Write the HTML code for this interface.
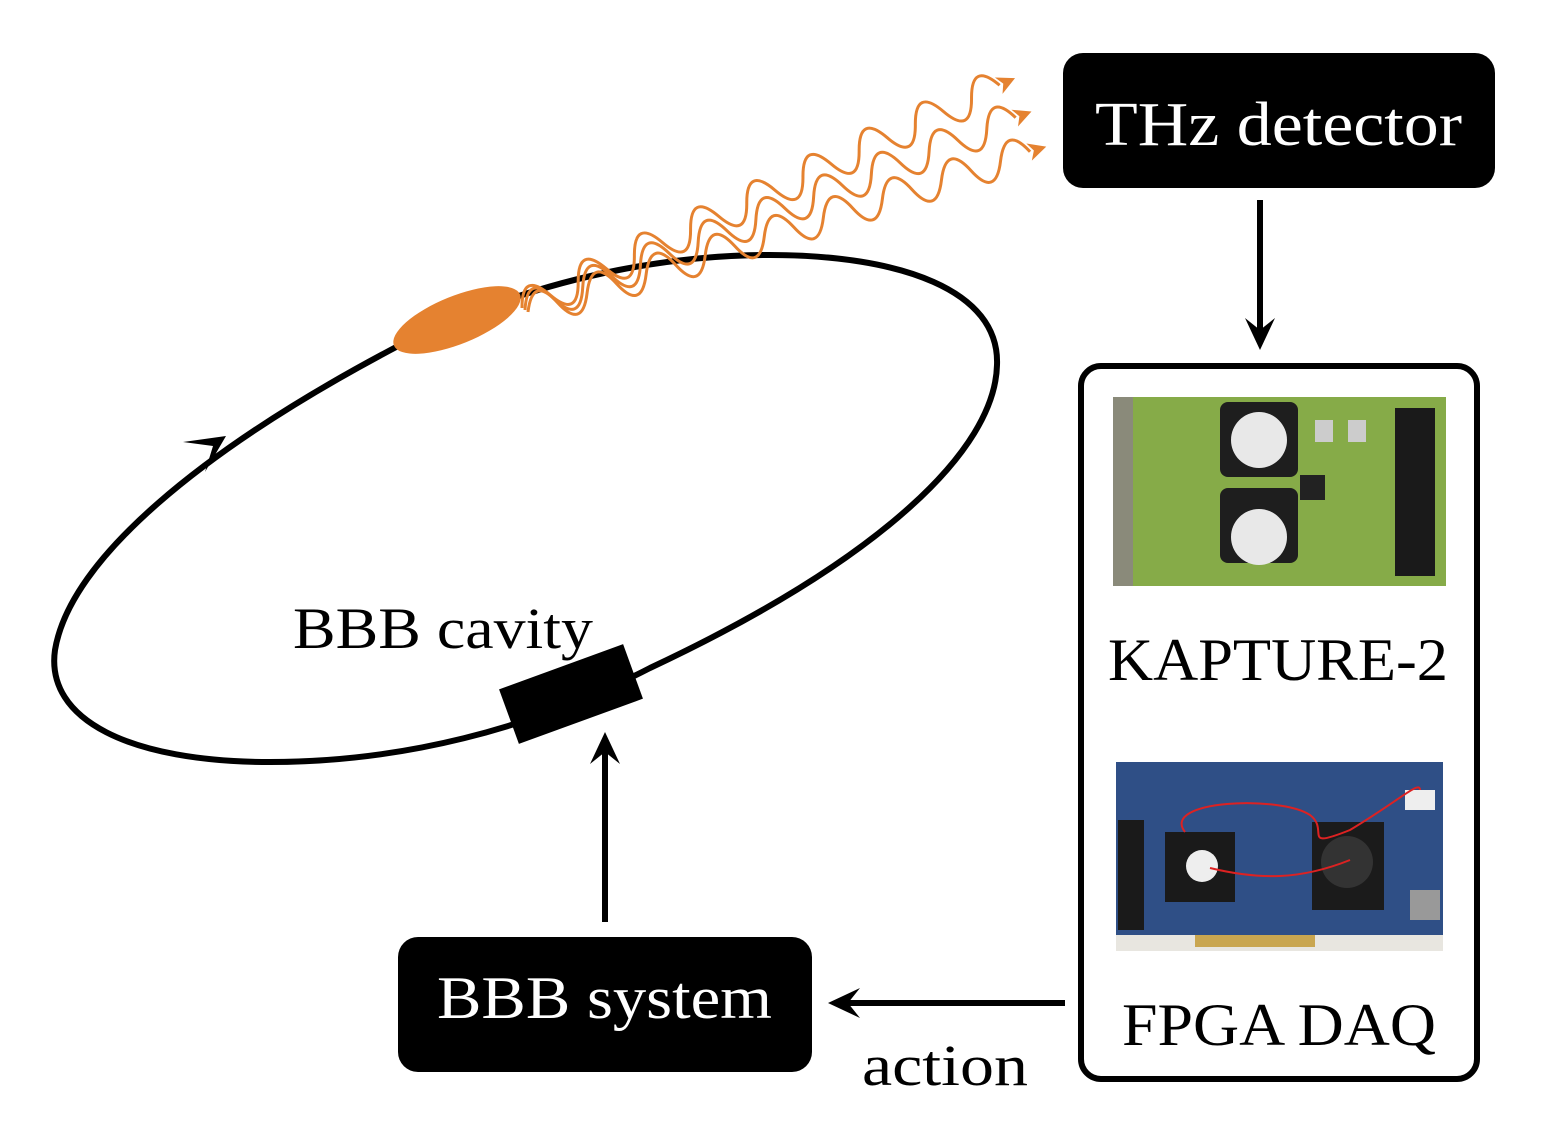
<!DOCTYPE html>
<html><head><style>
html,body{margin:0;padding:0;background:#fff;}
svg{display:block;}
text{font-family:"Liberation Serif",serif;}
</style></head><body>
<svg width="1550" height="1134" viewBox="0 0 1550 1134" xmlns="http://www.w3.org/2000/svg">
<defs>
<path id="wv" d="M0 0 q15.5 -34 31 0 t31 0 t31 0 t31 0 t31 0 t31 0 t31 0 t31 0 t31 0 t31 0 t31 0 t31 0 t31 0 t31 0 t31 0 t31 0 t31 0" fill="none" stroke="#e58230" stroke-width="3"/>
</defs>
<!-- ring -->
<path d="M270 762 C130 762 45 720 55 650 C70 560 200 450 400 345 C560 265 700 255 770 255 C900 255 1000 290 997 365 C995 450 880 560 650 668 C530 730 400 762 270 762 Z" fill="none" stroke="#000" stroke-width="6"/>
<!-- direction arrow -->
<path d="M183 442 L226 436 L205 472 L213 446 Z" fill="#000"/>
<!-- bunch -->
<ellipse cx="457" cy="320" rx="68" ry="24" transform="rotate(-22 457 320)" fill="#e58230"/>
<!-- waves -->
<g transform="translate(522,308) rotate(-25)"><use href="#wv"/><path d="M544 0 l-18 -9 l5 9 l-5 9 z" fill="#e58230"/></g>
<g transform="translate(525,310) rotate(-21.4)"><use href="#wv"/><path d="M544 0 l-18 -9 l5 9 l-5 9 z" fill="#e58230"/></g>
<g transform="translate(528,312) rotate(-17.7)"><use href="#wv"/><path d="M544 0 l-18 -9 l5 9 l-5 9 z" fill="#e58230"/></g>
<!-- cavity box -->
<rect x="505" y="665" width="132" height="58" transform="rotate(-20 571 694)" fill="#000"/>
<text x="293" y="648" font-size="58" textLength="300" lengthAdjust="spacingAndGlyphs">BBB cavity</text>
<!-- THz detector -->
<rect x="1063" y="53" width="432" height="135" rx="20" fill="#000"/>
<text x="1095" y="145" font-size="62" fill="#fff" textLength="367" lengthAdjust="spacingAndGlyphs">THz detector</text>
<!-- down arrow -->
<line x1="1260" y1="200" x2="1260" y2="335" stroke="#000" stroke-width="6"/>
<path d="M1260 350 L1245 318 L1260 330 L1275 318 Z" fill="#000"/>
<!-- right box -->
<rect x="1081" y="366" width="396" height="713" rx="20" fill="#fff" stroke="#000" stroke-width="6"/>
<!-- KAPTURE photo approx -->
<rect x="1113" y="397" width="333" height="189" fill="#7fa341"/>
<rect x="1113" y="397" width="20" height="189" fill="#8a8a7a"/>
<rect x="1133" y="397" width="313" height="189" fill="#86ab48"/>
<rect x="1220" y="402" width="78" height="75" rx="8" fill="#1e1e1e"/>
<circle cx="1259" cy="440" r="28" fill="#e8e8e8"/>
<rect x="1220" y="488" width="78" height="75" rx="8" fill="#1e1e1e"/>
<circle cx="1259" cy="537" r="28" fill="#e8e8e8"/>
<rect x="1395" y="408" width="40" height="168" fill="#1a1a1a"/>
<rect x="1300" y="475" width="25" height="25" fill="#222"/>
<rect x="1315" y="420" width="18" height="22" fill="#ccc"/>
<rect x="1348" y="420" width="18" height="22" fill="#ccc"/>
<text x="1108" y="680" font-size="60" textLength="340" lengthAdjust="spacingAndGlyphs">KAPTURE-2</text>
<!-- FPGA photo approx -->
<rect x="1116" y="762" width="327" height="189" fill="#2f4f86"/>
<rect x="1116" y="935" width="327" height="16" fill="#e8e6e0"/>
<rect x="1195" y="935" width="120" height="12" fill="#c9a650"/>
<rect x="1118" y="820" width="26" height="110" fill="#1a1a1a"/>
<rect x="1165" y="832" width="70" height="70" fill="#1a1a1a"/>
<circle cx="1202" cy="866" r="16" fill="#eee"/>
<rect x="1312" y="822" width="72" height="88" fill="#1b1b1b"/>
<circle cx="1347" cy="862" r="26" fill="#333"/>
<rect x="1405" y="790" width="30" height="20" fill="#eee"/>
<rect x="1410" y="890" width="30" height="30" fill="#999"/>
<path d="M1185 832 C1160 800 1280 795 1310 815 C1330 830 1300 850 1350 830 C1400 800 1420 780 1420 790 M1210 868 C1260 880 1300 880 1350 860" fill="none" stroke="#d22" stroke-width="2"/>
<text x="1122" y="1045" font-size="60" textLength="314" lengthAdjust="spacingAndGlyphs">FPGA DAQ</text>
<!-- BBB system -->
<rect x="398" y="937" width="414" height="135" rx="20" fill="#000"/>
<text x="437" y="1018" font-size="60" fill="#fff" textLength="335" lengthAdjust="spacingAndGlyphs">BBB system</text>
<!-- up arrow -->
<line x1="605" y1="922" x2="605" y2="748" stroke="#000" stroke-width="6"/>
<path d="M605 732 L590 764 L605 752 L620 764 Z" fill="#000"/>
<!-- left arrow -->
<line x1="1065" y1="1003" x2="845" y2="1003" stroke="#000" stroke-width="6"/>
<path d="M828 1003 L860 988 L848 1003 L860 1018 Z" fill="#000"/>
<text x="862" y="1085" font-size="58" textLength="166" lengthAdjust="spacingAndGlyphs">action</text>
</svg>
</body></html>
